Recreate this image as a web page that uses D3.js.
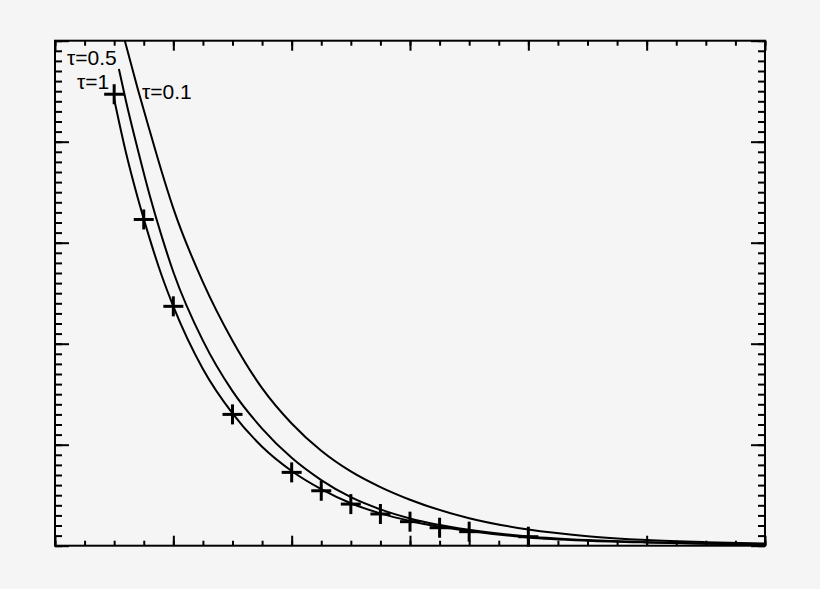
<!DOCTYPE html>
<html>
<head>
  <meta charset="utf-8">
  <script src="https://d3js.org/d3.v7.min.js"></script>
<style>
  body {
    margin: 0;
    background: #f5f5f5;
  }
  .frame {
    fill: none;
    stroke: #000;
    stroke-width: 2;
  }
  .tick line {
    stroke: #000;
    stroke-width: 2;
  }
  .domain {
    display: none;
  }
  .curve {
    fill: none;
    stroke: #000;
    stroke-width: 2;
  }
  .cross {
    stroke: #000;
    stroke-width: 3;
  }
  .lbl {
    font-family: "Liberation Sans", Arial, sans-serif;
    font-size: 21px;
    fill: #000;
  }
</style>
</head>
<body>
<script type="text/javascript">
  // model curves, values
  var tau01X = [0.59, 0.7, 0.8, 0.9, 1.0, 1.25, 1.5, 1.75, 2.0, 2.25, 2.5, 2.75, 3.0, 3.5, 4.0, 4.5, 5.0, 5.5, 6.0];
  var tau01Y = [5.0, 4.52, 4.11, 3.71, 3.34, 2.61, 2.03, 1.56, 1.21, 0.94, 0.735, 0.58, 0.455, 0.272, 0.16, 0.094, 0.056, 0.035, 0.022];

  var tau05X = [0.54, 0.6, 0.7, 0.8, 0.9, 1.0, 1.25, 1.5, 1.75, 2.0, 2.25, 2.5, 2.75, 3.0, 3.5, 4.0, 4.5, 5.0, 5.5, 6.0];
  var tau05Y = [4.72, 4.40, 3.92, 3.47, 3.07, 2.71, 2.03, 1.53, 1.16, 0.87, 0.65, 0.48, 0.36, 0.27, 0.157, 0.092, 0.056, 0.035, 0.022, 0.014];

  var tau1X = [0.5, 0.6, 0.7, 0.8, 0.9, 1.0, 1.25, 1.5, 1.75, 2.0, 2.25, 2.5, 2.75, 3.0, 3.5, 4.0, 4.5, 5.0, 5.5, 6.0];
  var tau1Y = [4.42, 3.89, 3.44, 3.04, 2.68, 2.37, 1.75, 1.31, 0.98, 0.74, 0.56, 0.42, 0.32, 0.245, 0.145, 0.082, 0.05, 0.032, 0.02, 0.012];

  // measured points (crosses)
  var crossX = [0.5, 0.75, 1, 1.5, 2, 2.25, 2.5, 2.75, 3, 3.25, 3.5, 4];
  var crossY = [4.47, 3.23, 2.37, 1.30, 0.726, 0.544, 0.412, 0.314, 0.238, 0.178, 0.139, 0.089];

  // ticks (no labels on this plot)
  var xMajor = [0, 1, 2, 3, 4, 5, 6];
  var xMinor = d3.range(0, 6.001, 0.25);
  var yMajor = [0, 1, 2, 3, 4, 5];
  var yMinor = d3.range(0, 5.001, 0.1);

  var labels = [
    {t: "\u03c4=0.5", x: 67, y: 65},
    {t: "\u03c4=1", x: 77, y: 89},
    {t: "\u03c4=0.1", x: 142, y: 99}
  ];

  var W = 820, H = 589;
  var pL = 55, pR = 765, pT = 40.7, pB = 545.7;

  var x = d3.scaleLinear().domain([0, 6]).range([pL, pR]);
  var y = d3.scaleLinear().domain([0, 5]).range([pB, pT]);

  var svg = d3.select("body")
    .append("svg")
      .attr("width", W)
      .attr("height", H);

  svg.append("rect")
    .attr("width", W)
    .attr("height", H)
    .attr("fill", "#f5f5f5");

  // ticks point inward on all four sides
  function ticks(axis, vals, size, tx, ty) {
    svg.append("g")
      .attr("transform", "translate(" + tx + "," + ty + ")")
      .call(axis.tickValues(vals).tickSize(size).tickSizeOuter(0).tickFormat(""));
  }
  ticks(d3.axisBottom(x), xMinor, -5, 0, pB);
  ticks(d3.axisBottom(x), xMajor, -10, 0, pB);
  ticks(d3.axisTop(x), xMinor, -5, 0, pT);
  ticks(d3.axisTop(x), xMajor, -10, 0, pT);
  ticks(d3.axisLeft(y), yMinor, -7, pL, 0);
  ticks(d3.axisLeft(y), yMajor, -14, pL, 0);
  ticks(d3.axisRight(y), yMinor, -7, pR, 0);
  ticks(d3.axisRight(y), yMajor, -14, pR, 0);

  var line = d3.line()
    .x(function (d) { return x(d[0]); })
    .y(function (d) { return y(d[1]); })
    .curve(d3.curveMonotoneX);

  [[tau01X, tau01Y], [tau05X, tau05Y], [tau1X, tau1Y]].forEach(function (s) {
    svg.append("path")
      .attr("class", "curve")
      .attr("d", line(d3.zip(s[0], s[1])));
  });

  var pts = d3.zip(crossX, crossY);
  var cr = svg.selectAll("g.crossg")
    .data(pts)
    .enter()
    .append("g")
      .attr("class", "crossg")
      .attr("transform", function (d) { return "translate(" + x(d[0]) + "," + y(d[1]) + ")"; });
  cr.append("line").attr("class", "cross").attr("x1", -10).attr("x2", 10);
  cr.append("line").attr("class", "cross").attr("y1", -10).attr("y2", 10);

  svg.selectAll("text.lbl")
    .data(labels)
    .enter()
    .append("text")
      .attr("class", "lbl")
      .attr("x", function (d) { return d.x; })
      .attr("y", function (d) { return d.y; })
      .text(function (d) { return d.t; });

  svg.append("rect")
    .attr("class", "frame")
    .attr("x", pL)
    .attr("y", pT)
    .attr("width", pR - pL)
    .attr("height", pB - pT);
</script>
</body>
</html>
